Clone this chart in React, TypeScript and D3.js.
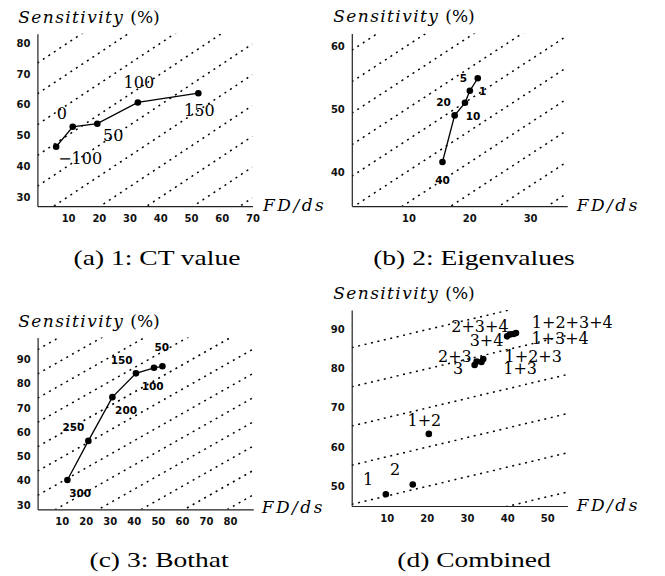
import { useEffect, useRef } from 'react'
import * as d3 from 'd3'

// (a) 1: CT value
const ctFd = [6.1, 11.5, 19.5, 32.7, 52.4]
const ctSens = [46.3, 52.8, 53.8, 60.7, 63.7]
const ctLabels = ['−100', '0', '50', '100', '150']

// (b) 2: Eigenvalues
const eigFd = [15.6, 17.6, 19.3, 20.1, 21.4]
const eigSens = [41.7, 49.1, 51.1, 53.0, 55.0]
const eigLabels = ['40', '20', '10', '1', '5']

// (c) 3: Bothat
const bothatFd = [12.4, 21.1, 31.1, 40.9, 48.4, 51.9]
const bothatSens = [40.3, 56.4, 74.4, 84.2, 86.5, 87.1]
const bothatLabels = ['300', '250', '200', '150', '100', '50']

// (d) Combined
const combFd = [9.8, 16.5, 20.5, 31.9, 32.4, 33.6, 34.05, 40.0, 40.7, 41.6, 42.2]
const combSens = [47.9, 50.4, 63.3, 80.9, 81.8, 81.65, 82.4, 88.2, 88.7, 88.8, 89.05]
const combLabels = ['1', '2', '1+2', '3', '2+3', '1+3', '1+2+3', '3+4', '2+3+4', '1+3+4', '1+2+3+4']

// iso lines: sensitivity = intercept + slope * FD/ds
const ctSlope = 0.66
const ctIntercepts = [83.5, 73.5, 63.5, 53.5, 43.5, 33.5, 23.5, 13.5, 3.5, -6.5, -16.5]
const eigSlope = 0.63
const eigIntercepts = [64, 59, 54, 49, 44, 39, 34, 29, 24, 19, 14]
const bothatSlope = 0.56
const bothatIntercepts = [104, 94, 84, 74, 64, 54, 44, 34, 24, 14, 4, -6, -16, -26]
const combSlope = 0.245
const combIntercepts = [95, 85, 75, 65, 55, 45, 35]

// tick values
const ctXTicks = [10, 20, 30, 40, 50, 60, 70]
const ctYTicks = [30, 40, 50, 60, 70, 80]
const eigXTicks = [10, 20, 30]
const eigYTicks = [40, 50, 60]
const bothatXTicks = [10, 20, 30, 40, 50, 60, 70, 80]
const bothatYTicks = [30, 40, 50, 60, 70, 80, 90]
const combXTicks = [10, 20, 30, 40, 50]
const combYTicks = [50, 60, 70, 80, 90]

// label offsets from their point (px, text baseline)
const ctOffsets = [[24, 17], [-11, -8], [16, 17.3], [1, -14.6], [1, 22.7]]
const eigOffsets = [[0, 22], [-11, -9], [8, 17.7], [12.7, 3.7], [-14.4, 3.7]]
const bothatOffsets = [[12.7, 17], [-15, -9.6], [13.7, 16.4], [-14.3, -9.6], [-1.3, 22], [-0.6, -14.9]]
const combOffsets = [
  [-17.7, -9], [-17.7, -9], [-4.4, -8.4], [-16.4, 9.3], [-21.7, 0.7], [38.7, 12.3],
  [50, 3], [-20.6, 9.7], [-30, -2.5], [46.5, 10.3], [56.3, -4.7],
]

const tickFont = '"DejaVu Sans", sans-serif'
const serifFont = '"DejaVu Serif", serif'

interface Panel {
  fd: number[]
  sens: number[]
  labels: string[]
  offsets: number[][]
  connect: boolean
  labelSerif: boolean
  slope: number
  intercepts: number[]
  xTicks: number[]
  yTicks: number[]
  xDomain: [number, number]
  xRange: [number, number]
  yDomain: [number, number]
  yRange: [number, number]
  title: [number, number]
  fdPos: [number, number]
  caption: string
  captionPos: [number, number]
}

const panels: Panel[] = [
  {
    fd: ctFd, sens: ctSens, labels: ctLabels, offsets: ctOffsets, connect: true, labelSerif: true,
    slope: ctSlope, intercepts: ctIntercepts, xTicks: ctXTicks, yTicks: ctYTicks,
    xDomain: [0, 70], xRange: [37.4, 252.4], yDomain: [27, 83], yRange: [206.2, 33.8],
    title: [18.3, 22.7], fdPos: [263, 210.7], caption: '(a) 1: CT value', captionPos: [157, 264.5],
  },
  {
    fd: eigFd, sens: eigSens, labels: eigLabels, offsets: eigOffsets, connect: true, labelSerif: false,
    slope: eigSlope, intercepts: eigIntercepts, xTicks: eigXTicks, yTicks: eigYTicks,
    xDomain: [0.7, 36.1], xRange: [351.8, 567.2], yDomain: [34.7, 62.1], yRange: [206.1, 33.5],
    title: [333.3, 22.2], fdPos: [576.7, 210.7], caption: '(b) 2: Eigenvalues', captionPos: [474, 264.5],
  },
  {
    fd: bothatFd, sens: bothatSens, labels: bothatLabels, offsets: bothatOffsets, connect: true, labelSerif: false,
    slope: bothatSlope, intercepts: bothatIntercepts, xTicks: bothatXTicks, yTicks: bothatYTicks,
    xDomain: [0, 89.7], xRange: [37.6, 253.3], yDomain: [28.2, 99], yRange: [509.4, 337.4],
    title: [18.3, 326.7], fdPos: [261.7, 512.5], caption: '(c) 3: Bothat', captionPos: [159, 567],
  },
  {
    fd: combFd, sens: combSens, labels: combLabels, offsets: combOffsets, connect: false, labelSerif: true,
    slope: combSlope, intercepts: combIntercepts, xTicks: combXTicks, yTicks: combYTicks,
    xDomain: [1.3, 55], xRange: [351.7, 567.4], yDomain: [44.9, 94.9], yRange: [506, 310.1],
    title: [333.3, 299.3], fdPos: [576.7, 510.7], caption: '(d) Combined', captionPos: [474, 567],
  },
]

export default function App() {
  const svgRef = useRef<SVGSVGElement>(null)

  useEffect(() => {
    if (!svgRef.current) return
    const svg = d3.select(svgRef.current)
    svg.selectAll('*').remove()
    const defs = svg.append('defs')

    panels.forEach((p, i) => {
      const x = d3.scaleLinear().domain(p.xDomain).range(p.xRange)
      const y = d3.scaleLinear().domain(p.yDomain).range(p.yRange)
      const g = svg.append('g')

      // clip for the dotted iso lines
      const clipId = `clip-${i}`
      defs
        .append('clipPath')
        .attr('id', clipId)
        .append('rect')
        .attr('x', p.xRange[0])
        .attr('y', p.yRange[1])
        .attr('width', p.xRange[1] - p.xRange[0])
        .attr('height', p.yRange[0] - p.yRange[1])

      const line = d3
        .line<[number, number]>()
        .x((d) => x(d[0]))
        .y((d) => y(d[1]))

      const [x0, x1] = p.xDomain
      g.append('g')
        .attr('clip-path', `url(#${clipId})`)
        .selectAll('path')
        .data(p.intercepts)
        .join('path')
        .attr('d', (c) => line([[x0, c + p.slope * x0], [x1, c + p.slope * x1]]))
        .attr('fill', 'none')
        .attr('stroke', '#000')
        .attr('stroke-width', 1.5)
        .attr('stroke-dasharray', '2 4.6')

      // axes
      const yAxis = g
        .append('g')
        .attr('transform', `translate(${p.xRange[0]},0)`)
        .call(d3.axisLeft(y).tickValues(p.yTicks).tickSize(0).tickSizeOuter(0).tickPadding(7).tickFormat(d3.format('d')))
      const xAxis = g
        .append('g')
        .attr('transform', `translate(0,${p.yRange[0]})`)
        .call(d3.axisBottom(x).tickValues(p.xTicks).tickSize(0).tickSizeOuter(0).tickPadding(8.5).tickFormat(d3.format('d')))
      ;[yAxis, xAxis].forEach((ax) => {
        ax.select('.domain').attr('stroke', '#222').attr('stroke-width', 1.2)
        ax.selectAll('text')
          .attr('font-family', tickFont)
          .attr('font-weight', 'bold')
          .attr('font-size', '10px')
          .attr('fill', '#111')
      })

      // curve through the operating points
      if (p.connect) {
        const pts = p.fd.map((f, k) => [f, p.sens[k]] as [number, number])
        g.append('path')
          .attr('d', line(pts))
          .attr('fill', 'none')
          .attr('stroke', '#000')
          .attr('stroke-width', 1.3)
      }

      g.selectAll('circle')
        .data(p.fd)
        .join('circle')
        .attr('cx', (f) => x(f))
        .attr('cy', (_, k) => y(p.sens[k]))
        .attr('r', 3.3)
        .attr('fill', '#000')

      // point labels
      g.selectAll('text.lbl')
        .data(p.labels)
        .join('text')
        .attr('class', 'lbl')
        .attr('x', (_, k) => x(p.fd[k]) + p.offsets[k][0])
        .attr('y', (_, k) => y(p.sens[k]) + p.offsets[k][1])
        .attr('text-anchor', 'middle')
        .attr('font-family', p.labelSerif ? serifFont : tickFont)
        .attr('font-weight', p.labelSerif ? 'normal' : 'bold')
        .attr('font-size', p.labelSerif ? '16px' : '10.5px')
        .attr('fill', '#000')
        .text((d) => d)

      // axis titles
      const title = g
        .append('text')
        .attr('x', p.title[0])
        .attr('y', p.title[1])
        .attr('font-family', serifFont)
        .attr('font-size', '17px')
        .attr('fill', '#000')
      title.append('tspan').attr('font-style', 'italic').attr('letter-spacing', '1.4').text('Sensitivity')
      title.append('tspan').attr('dx', 6).text('(%)')

      g.append('text')
        .attr('x', p.fdPos[0])
        .attr('y', p.fdPos[1])
        .attr('font-family', serifFont)
        .attr('font-style', 'italic')
        .attr('font-size', '17px')
        .attr('letter-spacing', '2.5')
        .attr('fill', '#000')
        .text('FD/ds')

      // caption
      svg
        .append('text')
        .attr('transform', `translate(${p.captionPos[0]},${p.captionPos[1]}) scale(1.31,1)`)
        .attr('text-anchor', 'middle')
        .attr('font-family', '"Liberation Serif", "Times New Roman", serif')
        .attr('font-size', '21px')
        .attr('fill', '#000')
        .text(p.caption)
    })
  }, [])

  return (
    <svg
      ref={svgRef}
      width={665}
      height={576}
      style={{ position: 'absolute', left: 0, top: 0, background: '#fff' }}
    />
  )
}
